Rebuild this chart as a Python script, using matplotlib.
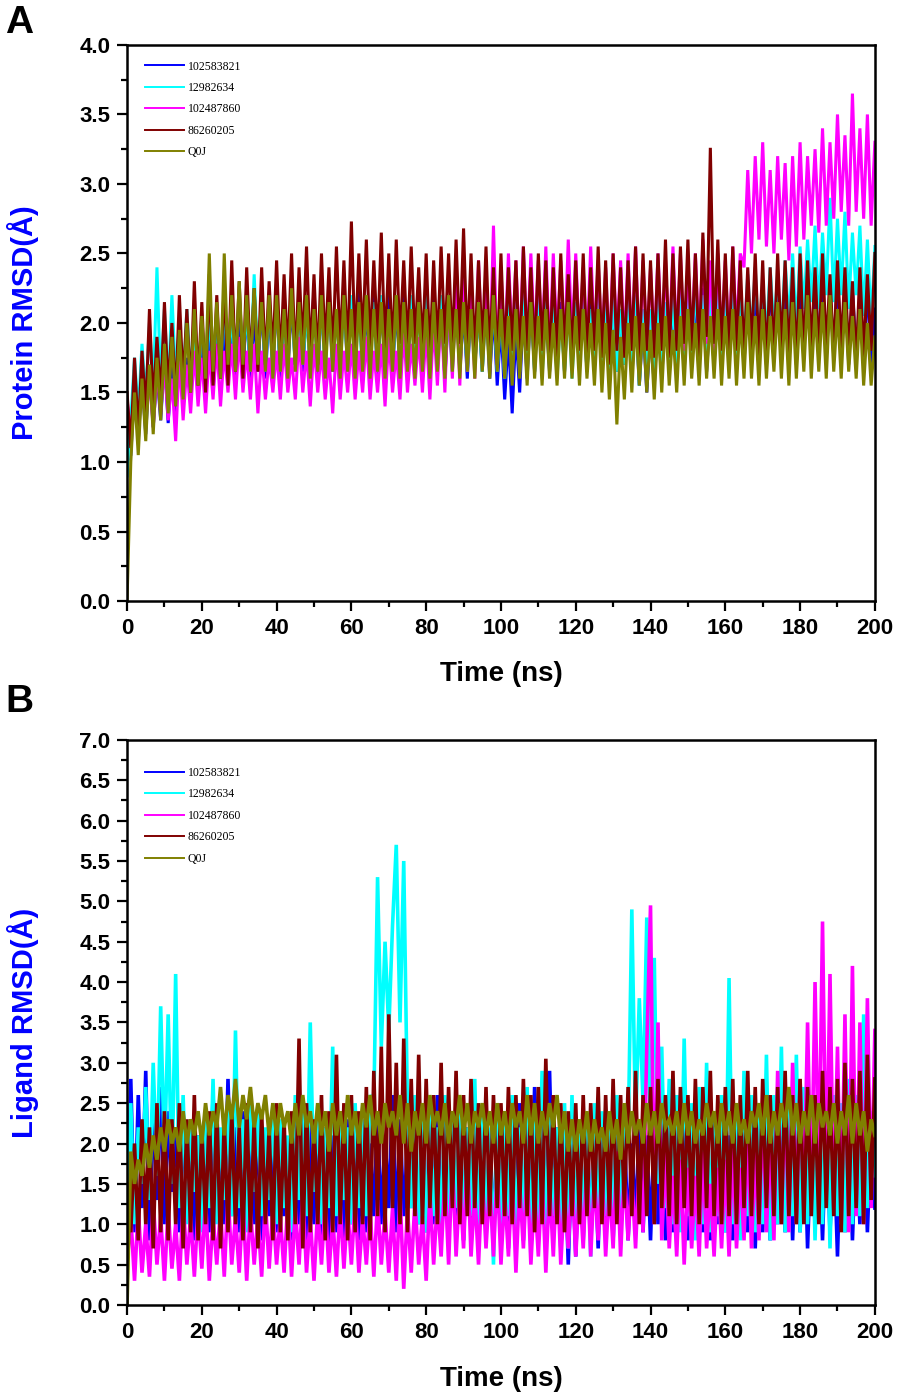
import numpy as np
import matplotlib.pyplot as plt
from matplotlib.ticker import MultipleLocator

# ligand ids, same order in both panels
names = ['102583821', '12982634', '102487860', '86260205', 'Q0J']
colores = ['#0000FF', '#00FFFF', '#FF00FF', '#800000', '#808000']

# Panel A: protein RMSD (Å), one reading per ns, 0..200 ns
protA_102583821 = [
    1.0, 1.05, 1.55, 1.15, 1.6, 1.2, 1.7, 1.25, 1.65, 1.3, 1.75, 1.28, 1.7, 1.35, 1.8, 1.4, 1.75, 1.45, 1.85, 1.5,
    1.9, 1.55, 1.95, 1.5, 2.0, 1.6, 1.95, 1.55, 2.05, 1.6, 2.0, 1.65, 2.1, 1.6, 2.05, 1.65, 2.15, 1.6, 2.1, 1.65,
    2.2, 1.6, 2.1, 1.65, 2.15, 1.7, 2.2, 1.65, 2.1, 1.7, 2.25, 1.6, 2.15, 1.7, 2.2, 1.65, 2.1, 1.7, 2.2, 1.65,
    2.15, 1.7, 2.25, 1.65, 2.1, 1.7, 2.2, 1.6, 2.15, 1.7, 2.2, 1.65, 2.1, 1.7, 2.25, 1.65, 2.15, 1.7, 2.2, 1.6,
    2.1, 1.65, 2.2, 1.7, 2.15, 1.6, 2.1, 1.7, 2.2, 1.65, 2.1, 1.6, 2.15, 1.7, 2.1, 1.65, 2.2, 1.6, 2.1, 1.55,
    2.0, 1.45, 1.9, 1.35, 1.95, 1.5, 2.1, 1.6, 2.15, 1.65, 2.2, 1.7, 2.1, 1.65, 2.2, 1.7, 2.15, 1.65, 2.2, 1.7,
    2.1, 1.7, 2.2, 1.65, 2.15, 1.7, 2.25, 1.65, 2.1, 1.6, 2.15, 1.65, 2.1, 1.7, 2.2, 1.6, 2.1, 1.55, 2.0, 1.5,
    1.95, 1.55, 2.05, 1.6, 2.1, 1.65, 2.15, 1.7, 2.1, 1.65, 2.2, 1.7, 2.15, 1.7, 2.25, 1.65, 2.1, 1.7, 2.2, 1.75,
    2.2, 1.7, 2.3, 1.75, 2.2, 1.7, 2.25, 1.75, 2.3, 1.7, 2.2, 1.75, 2.3, 1.8, 2.25, 1.75, 2.3, 1.7, 2.2, 1.75,
    2.3, 1.8, 2.25, 1.75, 2.35, 1.8, 2.3, 1.75, 2.2, 1.8, 2.35, 1.75, 2.3, 1.7, 2.25, 1.75, 2.2, 1.7, 2.3, 1.65, 2.1]
protA_12982634 = [
    0.9, 1.3, 1.75, 1.35, 1.85, 1.45, 2.0, 1.5, 2.4, 1.55, 2.1, 1.5, 2.2, 1.6, 2.0, 1.55, 2.1, 1.6, 1.95, 1.55,
    2.0, 1.6, 2.1, 1.55, 2.05, 1.65, 2.15, 1.6, 2.1, 1.65, 2.2, 1.7, 2.1, 1.65, 2.35, 1.7, 2.2, 1.65, 2.15, 1.7,
    2.2, 1.65, 2.1, 1.7, 2.25, 1.65, 2.2, 1.7, 2.1, 1.65, 2.2, 1.7, 2.15, 1.65, 2.2, 1.7, 2.1, 1.65, 2.2, 1.7,
    2.2, 1.7, 2.1, 1.65, 2.2, 1.7, 2.15, 1.65, 2.2, 1.7, 2.1, 1.65, 2.2, 1.7, 2.15, 1.65, 2.2, 1.7, 2.1, 1.65,
    2.2, 1.7, 2.15, 1.65, 2.2, 1.7, 2.1, 1.65, 2.2, 1.7, 2.15, 1.65, 2.2, 1.7, 2.1, 1.65, 2.2, 1.7, 2.15, 1.65,
    2.1, 1.6, 2.2, 1.7, 2.15, 1.65, 2.3, 1.7, 2.2, 1.65, 2.25, 1.6, 2.2, 1.7, 2.15, 1.6, 2.1, 1.65, 2.2, 1.6,
    2.15, 1.7, 2.2, 1.65, 2.1, 1.7, 2.2, 1.65, 2.15, 1.6, 2.2, 1.65, 2.1, 1.7, 2.25, 1.6, 2.2, 1.55, 2.1, 1.6,
    2.1, 1.6, 2.2, 1.65, 2.15, 1.7, 2.2, 1.65, 2.25, 1.7, 2.2, 1.75, 2.3, 1.7, 2.2, 1.75, 2.25, 1.7, 2.3, 1.75,
    2.25, 1.8, 2.3, 1.75, 2.2, 1.85, 2.35, 1.9, 2.4, 1.85, 2.3, 1.9, 2.4, 1.95, 2.35, 1.9, 2.45, 2.0, 2.5, 1.95,
    2.55, 2.1, 2.6, 2.15, 2.7, 2.1, 2.65, 2.2, 2.9, 2.15, 2.75, 2.2, 2.8, 2.1, 2.65, 2.2, 2.7, 2.05, 2.6, 2.0, 2.55]
protA_102487860 = [
    1.45, 1.2, 1.5, 1.25, 1.55, 1.3, 1.6, 1.25, 1.65, 1.35, 1.7, 1.3, 1.6, 1.15, 1.75, 1.3, 1.7, 1.35, 1.8, 1.4,
    1.75, 1.35, 1.8, 1.45, 1.85, 1.4, 1.8, 1.5, 1.85, 1.45, 1.9, 1.5, 1.8, 1.45, 1.85, 1.35, 1.8, 1.45, 1.75, 1.5,
    1.8, 1.45, 1.85, 1.5, 1.75, 1.45, 1.9, 1.5, 1.8, 1.4, 1.85, 1.5, 1.8, 1.45, 1.75, 1.35, 1.85, 1.45, 1.8, 1.5,
    1.85, 1.45, 1.8, 1.5, 1.9, 1.45, 1.8, 1.5, 1.85, 1.4, 1.9, 1.5, 1.8, 1.45, 1.95, 1.5, 1.85, 1.55, 1.9, 1.5,
    1.95, 1.45, 2.0, 1.55, 2.1, 1.5, 2.2, 1.6, 2.3, 1.55, 2.4, 1.65, 2.3, 1.6, 2.45, 1.7, 2.35, 1.65, 2.7, 1.7,
    2.4, 1.75, 2.5, 1.8, 2.45, 1.75, 2.55, 1.8, 2.5, 1.85, 2.45, 1.8, 2.55, 1.75, 2.5, 1.85, 2.45, 1.8, 2.6, 1.85,
    2.5, 1.85, 2.4, 1.8, 2.55, 1.85, 2.45, 1.8, 2.4, 1.75, 2.5, 1.85, 2.45, 1.8, 2.5, 1.8, 2.55, 1.75, 2.45, 1.8,
    2.4, 1.8, 2.5, 1.85, 2.45, 1.8, 2.55, 1.85, 2.5, 1.8, 2.45, 1.85, 2.5, 1.8, 2.6, 1.85, 2.45, 1.8, 2.5, 1.85,
    2.45, 1.8, 2.55, 1.9, 2.5, 2.4, 3.1, 2.5, 3.2, 2.6, 3.3, 2.55, 3.1, 2.5, 3.2, 2.6, 3.15, 2.45, 3.2, 2.55,
    3.3, 2.6, 3.2, 2.7, 3.25, 2.65, 3.4, 2.7, 3.3, 2.75, 3.5, 2.8, 3.35, 2.7, 3.65, 2.8, 3.4, 2.75, 3.5, 2.7, 3.3]
protA_86260205 = [
    1.5, 1.1, 1.75, 1.2, 1.8, 1.35, 2.1, 1.4, 1.9, 1.45, 2.15, 1.5, 2.0, 1.45, 2.2, 1.55, 2.1, 1.5, 2.3, 1.55,
    2.15, 1.5, 2.35, 1.55, 2.2, 1.6, 2.3, 1.55, 2.45, 1.65, 2.3, 1.6, 2.4, 1.7, 2.25, 1.65, 2.4, 1.7, 2.3, 1.75,
    2.45, 1.7, 2.35, 1.75, 2.5, 1.7, 2.4, 1.8, 2.55, 1.75, 2.35, 1.7, 2.5, 1.8, 2.4, 1.75, 2.55, 1.8, 2.45, 1.75,
    2.73, 1.8, 2.5, 1.85, 2.6, 1.8, 2.45, 1.85, 2.65, 1.8, 2.5, 1.75, 2.6, 1.85, 2.45, 1.8, 2.55, 1.85, 2.4, 1.8,
    2.5, 1.75, 2.45, 1.8, 2.55, 1.85, 2.5, 1.8, 2.6, 1.85, 2.68, 1.8, 2.5, 1.75, 2.45, 1.8, 2.55, 1.75, 2.4, 1.7,
    2.5, 1.75, 2.4, 1.8, 2.45, 1.7, 2.55, 1.8, 2.4, 1.75, 2.5, 1.8, 2.45, 1.7, 2.4, 1.75, 2.5, 1.8, 2.35, 1.75,
    2.45, 1.8, 2.5, 1.75, 2.4, 1.8, 2.55, 1.75, 2.45, 1.7, 2.5, 1.8, 2.4, 1.75, 2.45, 1.8, 2.55, 1.75, 2.5, 1.8,
    2.45, 1.75, 2.5, 1.8, 2.6, 1.75, 2.5, 1.8, 2.55, 1.85, 2.6, 1.8, 2.5, 1.75, 2.65, 1.9, 3.26, 1.85, 2.6, 1.8,
    2.5, 1.75, 2.55, 1.8, 2.45, 1.75, 2.4, 1.8, 2.5, 1.75, 2.45, 1.7, 2.4, 1.75, 2.5, 1.8, 2.45, 1.75, 2.4, 1.7,
    2.5, 1.75, 2.45, 1.8, 2.4, 1.75, 2.5, 1.8, 2.35, 1.75, 2.45, 1.8, 2.4, 1.75, 2.3, 1.7, 2.4, 1.75, 2.35, 1.8, 2.5]
protA_Q0J = [
    0.0, 1.0, 1.5, 1.05, 1.6, 1.15, 1.7, 1.2, 1.75, 1.3, 1.85, 1.35, 1.9, 1.4, 1.95, 1.45, 2.0, 1.5, 2.1, 1.55,
    2.05, 1.6, 2.5, 1.65, 2.15, 1.6, 2.5, 1.7, 2.2, 1.65, 2.3, 1.7, 2.2, 1.65, 2.25, 1.7, 2.15, 1.65, 2.2, 1.6,
    2.2, 1.65, 2.1, 1.6, 2.25, 1.65, 2.15, 1.7, 2.2, 1.6, 2.1, 1.65, 2.2, 1.6, 2.15, 1.65, 2.1, 1.6, 2.2, 1.65,
    2.1, 1.6, 2.15, 1.65, 2.2, 1.6, 2.1, 1.65, 2.15, 1.6, 2.1, 1.65, 2.2, 1.6, 2.15, 1.65, 2.1, 1.6, 2.15, 1.65,
    2.1, 1.6, 2.15, 1.65, 2.1, 1.6, 2.2, 1.65, 2.1, 1.6, 2.15, 1.65, 2.1, 1.6, 2.15, 1.65, 2.1, 1.6, 2.2, 1.65,
    2.1, 1.6, 2.05, 1.55, 2.1, 1.6, 2.05, 1.55, 2.15, 1.6, 2.05, 1.55, 2.1, 1.6, 2.0, 1.55, 2.1, 1.6, 2.15, 1.6,
    2.05, 1.55, 2.1, 1.6, 2.0, 1.55, 2.1, 1.5, 2.0, 1.45, 1.95, 1.27, 1.9, 1.45, 2.0, 1.5, 2.05, 1.55, 2.0, 1.5,
    1.95, 1.45, 2.0, 1.5, 2.05, 1.55, 1.95, 1.5, 2.05, 1.55, 2.1, 1.6, 2.0, 1.55, 2.1, 1.6, 2.05, 1.6, 2.1, 1.55,
    2.05, 1.6, 2.1, 1.55, 2.05, 1.6, 2.15, 1.6, 2.05, 1.55, 2.1, 1.6, 2.05, 1.65, 2.15, 1.6, 2.1, 1.55, 2.15, 1.6,
    2.1, 1.65, 2.2, 1.6, 2.1, 1.65, 2.15, 1.6, 2.2, 1.65, 2.1, 1.6, 2.15, 1.65, 2.05, 1.6, 2.1, 1.55, 2.0, 1.55, 1.9]

# Panel B: ligand RMSD (Å), one reading per ns, 0..200 ns
ligB_102583821 = [
    0.5, 2.8, 0.9, 2.6, 1.2, 2.9, 0.8, 2.5, 1.3, 2.7, 1.0, 2.4, 1.4, 2.2, 0.9, 2.3, 1.2, 2.0, 0.8, 2.1,
    1.3, 1.9, 0.9, 2.6, 1.2, 2.0, 1.0, 2.8, 1.1, 2.2, 0.9, 2.4, 1.2, 2.0, 1.0, 2.3, 0.8, 2.1, 1.1, 1.9,
    0.9, 2.2, 1.1, 2.0, 0.8, 2.3, 1.0, 2.1, 0.7, 2.4, 1.0, 2.0, 0.8, 2.2, 0.6, 2.1, 0.9, 2.0, 0.7, 2.3,
    1.0, 2.1, 0.8, 2.2, 0.9, 2.0, 1.1, 2.4, 1.0, 2.1, 1.2, 2.6, 0.9, 2.3, 1.1, 2.0, 1.2, 2.2, 1.0, 2.1,
    0.9, 2.3, 1.0, 2.6, 0.8, 2.2, 0.9, 2.1, 1.1, 2.4, 0.8, 2.2, 1.0, 2.0, 0.7, 2.3, 0.9, 2.1, 0.8, 2.2,
    0.9, 2.4, 0.7, 2.0, 1.0, 2.5, 0.8, 2.3, 0.9, 2.7, 1.0, 2.4, 0.8, 2.9, 1.0, 2.2, 0.7, 2.0, 0.5, 1.9,
    0.6, 2.1, 0.8, 2.2, 0.9, 2.0, 0.7, 2.3, 1.0, 2.1, 0.8, 2.5, 0.9, 2.2, 0.8, 2.0, 1.0, 2.3, 0.9, 2.1,
    0.8, 2.2, 1.0, 2.4, 0.8, 2.1, 0.9, 2.6, 1.0, 2.2, 0.8, 2.3, 1.0, 2.0, 0.9, 2.2, 0.8, 2.1, 1.0, 2.3,
    0.9, 2.1, 0.8, 2.2, 1.0, 2.0, 0.9, 2.3, 0.7, 2.1, 0.9, 2.4, 0.8, 2.2, 1.0, 2.1, 0.9, 2.3, 0.8, 2.2,
    0.9, 2.4, 0.7, 2.1, 1.0, 2.2, 0.8, 2.3, 0.9, 2.1, 0.6, 2.2, 0.9, 2.4, 0.8, 2.1, 1.0, 2.3, 0.9, 2.2, 1.2]
ligB_12982634 = [
    0.7, 2.5, 1.0, 2.2, 1.5, 2.7, 1.3, 3.0, 1.6, 3.7, 1.8, 3.6, 1.5, 4.1, 1.2, 2.6, 1.0, 2.3, 1.4, 2.1,
    0.9, 2.4, 1.2, 2.8, 1.0, 2.2, 1.3, 2.5, 1.1, 3.4, 1.2, 2.3, 0.9, 2.6, 1.4, 2.4, 1.1, 2.2, 1.3, 2.5,
    1.0, 2.3, 1.2, 2.1, 0.9, 2.6, 1.3, 2.4, 1.1, 3.5, 1.4, 2.5, 1.0, 2.2, 1.2, 3.2, 1.1, 2.4, 1.3, 2.2,
    1.0, 2.5, 1.2, 2.3, 1.1, 2.6, 2.5, 5.3, 3.2, 4.5, 3.4, 4.7, 5.7, 3.5, 5.5, 2.4, 1.2, 2.6, 1.0, 2.3,
    0.9, 2.4, 1.1, 2.2, 0.8, 2.6, 1.0, 2.3, 1.2, 2.5, 0.9, 2.2, 1.1, 2.8, 0.8, 2.4, 1.0, 2.2, 0.5, 2.5,
    0.9, 2.3, 1.1, 2.6, 0.8, 2.2, 1.0, 2.7, 0.6, 2.3, 1.0, 2.9, 0.8, 2.4, 1.1, 2.2, 0.9, 2.5, 0.7, 2.6,
    0.8, 2.3, 1.0, 2.2, 0.6, 2.5, 0.9, 2.4, 1.1, 2.3, 0.8, 2.6, 1.0, 2.4, 2.0, 4.9, 2.2, 3.8, 2.5, 4.8,
    2.0, 4.3, 1.5, 3.2, 1.2, 2.8, 1.0, 2.6, 0.9, 3.3, 1.1, 2.5, 0.8, 2.7, 1.0, 3.0, 0.9, 2.4, 1.1, 2.6,
    0.9, 4.05, 1.0, 2.5, 0.8, 2.9, 1.1, 2.6, 0.9, 2.4, 1.0, 3.1, 0.8, 2.6, 1.0, 3.2, 0.9, 2.5, 1.1, 3.1,
    0.9, 2.7, 1.0, 2.6, 0.8, 2.5, 1.0, 2.9, 0.7, 2.6, 1.1, 2.5, 0.9, 2.8, 1.0, 2.6, 1.1, 3.6, 1.2, 2.4, 1.6]
ligB_102487860 = [
    0.5, 1.1, 0.3, 1.2, 0.4, 1.0, 0.35, 1.3, 0.5, 1.1, 0.3, 1.2, 0.45, 1.0, 0.3, 1.3, 0.5, 1.1, 0.35, 1.2,
    0.45, 1.3, 0.3, 1.1, 0.5, 1.2, 0.35, 1.4, 0.5, 1.1, 0.4, 1.3, 0.3, 1.2, 0.5, 1.1, 0.35, 1.3, 0.45, 1.2,
    0.5, 1.1, 0.4, 1.3, 0.35, 1.2, 0.5, 1.4, 0.4, 1.1, 0.3, 1.2, 0.5, 1.3, 0.4, 1.1, 0.35, 1.25, 0.45, 1.2,
    0.5, 1.3, 0.4, 1.1, 0.5, 1.2, 0.35, 1.3, 0.5, 1.15, 0.4, 1.2, 0.3, 1.4, 0.2, 1.2, 0.4, 1.3, 0.5, 1.1,
    0.3, 1.4, 0.5, 1.3, 0.6, 1.6, 0.5, 1.8, 0.6, 1.5, 0.7, 1.9, 0.6, 1.4, 0.5, 1.6, 0.7, 1.5, 0.6, 1.7,
    0.5, 1.4, 0.6, 1.6, 0.4, 1.5, 0.7, 1.7, 0.5, 1.4, 0.6, 1.6, 0.4, 1.5, 0.6, 1.7, 0.5, 1.4, 0.7, 1.6,
    0.6, 1.5, 0.7, 1.8, 0.6, 1.6, 0.8, 1.7, 0.6, 1.5, 0.7, 1.9, 0.6, 1.7, 0.8, 1.6, 0.7, 1.8, 0.9, 3.2,
    4.95, 1.0, 3.5, 0.8, 1.9, 0.7, 1.6, 0.6, 1.8, 0.5, 1.7, 0.7, 1.6, 0.6, 1.9, 0.7, 1.5, 0.6, 1.7, 0.7,
    1.8, 0.6, 2.0, 0.7, 1.7, 0.8, 2.2, 0.7, 1.9, 0.8, 2.5, 0.9, 2.1, 0.8, 2.9, 1.0, 2.6, 0.9, 3.0, 1.0,
    2.8, 1.2, 3.5, 1.3, 4.0, 1.5, 4.75, 1.4, 4.1, 1.2, 3.2, 1.0, 3.6, 0.9, 4.2, 1.1, 3.5, 1.0, 3.8, 1.2, 3.4]
ligB_86260205 = [
    1.5, 0.9, 2.0, 0.8, 2.3, 1.0, 2.2, 0.7, 2.5, 0.9, 2.4, 0.8, 2.3, 1.0, 2.5, 0.7, 2.3, 0.9, 2.6, 0.8,
    2.2, 1.0, 2.4, 0.8, 2.5, 0.7, 2.3, 0.9, 2.4, 1.0, 2.2, 0.8, 2.5, 0.9, 2.3, 0.7, 2.4, 1.0, 2.2, 0.8,
    2.5, 0.9, 2.3, 0.8, 2.4, 1.0, 3.3, 0.7, 2.5, 0.9, 2.3, 1.0, 2.6, 0.8, 2.4, 0.9, 3.1, 1.0, 2.5, 0.8,
    2.6, 0.9, 2.4, 1.0, 2.7, 0.8, 2.9, 1.1, 3.2, 0.9, 3.6, 1.2, 3.0, 1.0, 3.3, 0.9, 2.8, 1.1, 3.1, 1.0,
    2.8, 1.2, 2.6, 1.0, 3.0, 1.1, 2.7, 1.2, 2.9, 1.0, 2.6, 1.1, 2.8, 1.2, 2.5, 1.0, 2.7, 1.1, 2.6, 1.2,
    2.5, 1.1, 2.7, 1.0, 2.6, 1.2, 2.8, 1.1, 2.6, 0.9, 2.7, 1.0, 3.05, 1.1, 2.6, 1.0, 2.5, 0.9, 2.4, 1.1,
    2.5, 1.0, 2.6, 1.1, 2.5, 1.2, 2.7, 1.0, 2.6, 1.1, 2.8, 1.0, 2.6, 1.2, 2.7, 1.1, 2.9, 1.0, 2.6, 1.1,
    2.7, 1.0, 2.8, 1.2, 2.6, 1.1, 2.9, 1.0, 2.7, 1.2, 2.6, 1.1, 2.8, 1.0, 2.7, 1.2, 2.9, 1.1, 2.6, 1.0,
    2.7, 1.1, 2.8, 1.0, 2.6, 1.2, 2.9, 1.1, 2.7, 1.0, 2.8, 1.2, 2.6, 1.1, 2.7, 1.0, 2.9, 1.1, 2.6, 1.0,
    2.8, 1.0, 2.7, 1.1, 2.6, 1.0, 2.9, 1.2, 2.7, 1.1, 2.8, 0.9, 3.0, 1.1, 2.8, 1.2, 2.9, 1.0, 3.1, 1.3, 2.8]
ligB_Q0J = [
    0.0, 1.9, 1.5, 1.8, 1.6, 2.0, 1.7, 2.1, 1.8, 2.2, 1.9, 2.3, 2.0, 2.2, 1.9, 2.4, 2.0, 2.3, 2.1, 2.4,
    2.0, 2.5, 2.1, 2.4, 2.2, 2.7, 2.1, 2.6, 2.3, 2.8, 2.2, 2.6, 2.3, 2.7, 2.2, 2.5, 2.3, 2.6, 2.1, 2.5,
    2.1, 2.5, 2.2, 2.4, 2.0, 2.5, 2.1, 2.6, 2.2, 2.4, 2.0, 2.5, 2.1, 2.4, 1.9, 2.5, 2.1, 2.4, 2.0, 2.6,
    2.1, 2.4, 2.0, 2.5, 2.2, 2.6, 2.1, 2.4, 2.0, 2.5, 2.2, 2.4, 2.1, 2.6, 2.0, 2.5, 1.9, 2.4, 2.1, 2.5,
    2.0, 2.6, 2.2, 2.4, 2.1, 2.5, 2.0, 2.4, 2.2, 2.6, 2.1, 2.5, 2.0, 2.4, 2.2, 2.5, 2.1, 2.4, 2.0, 2.5,
    2.1, 2.4, 2.0, 2.5, 2.2, 2.4, 2.0, 2.6, 2.1, 2.5, 2.0, 2.4, 2.1, 2.5, 2.2, 2.6, 2.0, 2.4, 1.9, 2.3,
    1.9, 2.3, 2.0, 2.4, 1.9, 2.3, 2.0, 2.2, 1.9, 2.4, 2.0, 2.3, 1.8, 2.5, 2.0, 2.4, 2.1, 2.3, 2.0, 2.5,
    2.1, 2.4, 2.0, 2.5, 2.2, 2.3, 2.1, 2.4, 2.0, 2.5, 2.1, 2.4, 2.0, 2.3, 2.1, 2.5, 2.2, 2.4, 2.0, 2.5,
    2.1, 2.4, 2.0, 2.5, 2.1, 2.3, 2.0, 2.4, 2.2, 2.5, 2.1, 2.6, 2.0, 2.4, 2.1, 2.5, 2.2, 2.7, 2.1, 2.5,
    2.0, 2.4, 2.1, 2.6, 2.0, 2.5, 2.2, 2.4, 2.1, 2.5, 2.0, 2.4, 2.1, 2.6, 2.0, 2.5, 2.1, 2.4, 1.9, 2.3, 2.1]

seriesA = [protA_102583821, protA_12982634, protA_102487860, protA_86260205, protA_Q0J]
seriesB = [ligB_102583821, ligB_12982634, ligB_102487860, ligB_86260205, ligB_Q0J]

fuente = 'Liberation Sans'
plt.rcParams['font.family'] = fuente


def dibujaPanel(ax, series, ymax, ylabel, leg_y, grosor):
   for vals, nom, col in zip(series, names, colores):
      t = np.arange(len(vals))
      ax.plot(t, vals, color=col, lw=grosor, label=nom, solid_joinstyle='miter')
   ax.set_xlim(0, 200)
   ax.set_ylim(0, ymax)
   ax.xaxis.set_major_locator(MultipleLocator(20))
   ax.xaxis.set_minor_locator(MultipleLocator(10))
   ax.yaxis.set_major_locator(MultipleLocator(0.5))
   ax.yaxis.set_minor_locator(MultipleLocator(0.25))
   ax.yaxis.set_major_formatter('{x:.1f}')
   ax.tick_params(which='major', direction='out', length=7, width=1.6, labelsize=16, pad=5)
   ax.tick_params(which='minor', direction='out', length=4, width=1.6)
   for lab in ax.get_xticklabels() + ax.get_yticklabels():
      lab.set_fontweight('bold')
   for s in ax.spines.values():
      s.set_linewidth(1.8)
      s.set_zorder(5)
   ax.set_xlabel('Time (ns)', fontsize=20, fontweight='bold')
   ax.set_ylabel(ylabel, fontsize=21, fontweight='bold', color='#0000FF')
   ax.xaxis.set_label_coords(0.5, -0.108)
   ax.yaxis.set_label_coords(-0.118, 0.5)
   leg = ax.legend(loc='upper left', bbox_to_anchor=(0.024, leg_y), frameon=False,
                   prop={'family': 'Liberation Serif', 'size': 8.5},
                   handlelength=3.3, handletextpad=0.3, labelspacing=0.8,
                   borderpad=0, borderaxespad=0)
   for ln in leg.get_lines():
      ln.set_linewidth(1.4)


fig = plt.figure(figsize=(9.01, 14.0), dpi=100)
axA = fig.add_axes([0.141, 0.5707, 0.830, 0.3972])
axB = fig.add_axes([0.141, 0.0679, 0.830, 0.4036])

dibujaPanel(axA, seriesA, 4.0, 'Protein RMSD(Å)', 0.972, 2.2)
dibujaPanel(axB, seriesB, 7.0, 'Ligand RMSD(Å)', 0.952, 2.6)

fig.text(0.006, 0.971, 'A', fontsize=28, fontweight='bold', va='bottom')
fig.text(0.006, 0.486, 'B', fontsize=28, fontweight='bold', va='bottom')

fig.savefig('out.png', dpi=100)
